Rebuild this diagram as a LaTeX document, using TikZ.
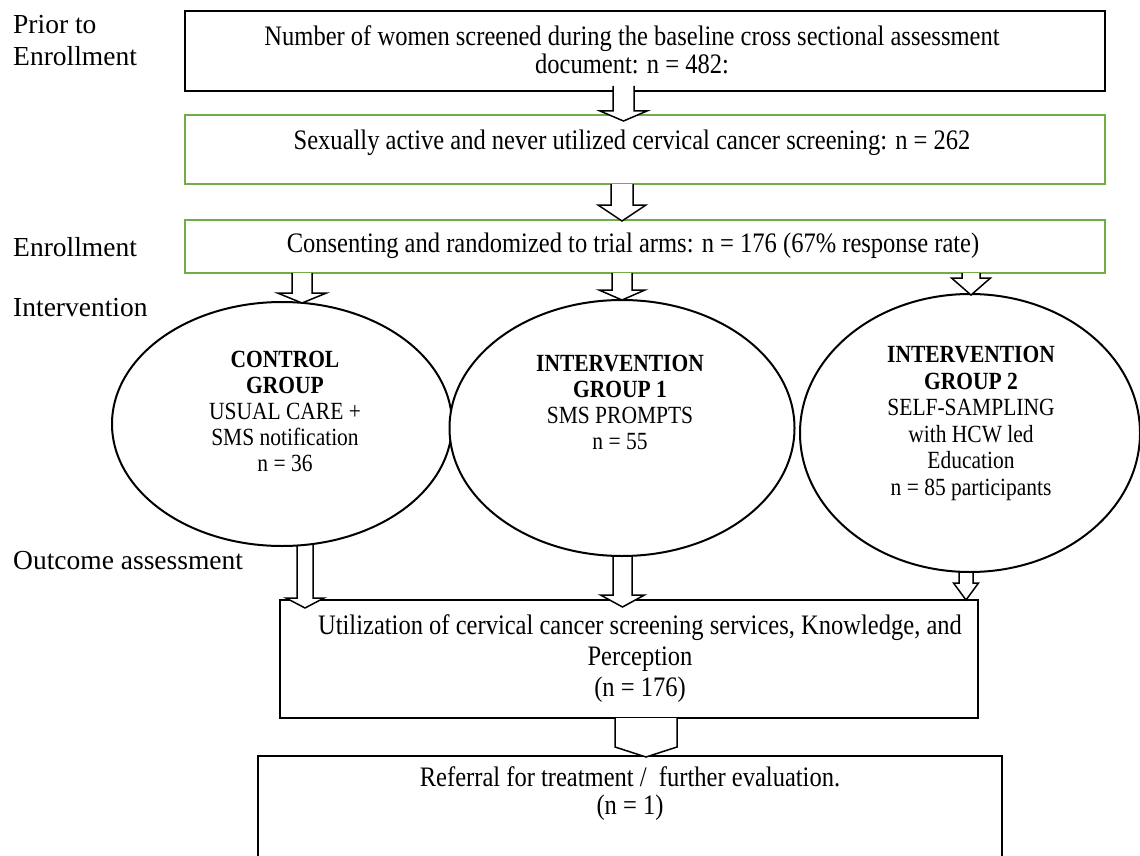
\documentclass[tikz,border=0pt]{standalone}
\usepackage{fontspec}
\setmainfont[FakeStretch=0.87]{Liberation Serif}
\newfontfamily\sidefont{Liberation Serif}
\usetikzlibrary{shapes.geometric}
\definecolor{boxgreen}{RGB}{112,173,71}
\tikzset{
  blackbox/.style={draw=black, line width=1.5pt, fill=white, inner sep=0pt},
  greenbox/.style={draw=boxgreen, line width=2.5pt, fill=white, inner sep=0pt},
  groupell/.style={ellipse, draw=black, line width=2pt, fill=white, inner sep=0pt},
  boxtext/.style={font=\fontsize{28.2}{28}\selectfont, align=center, inner sep=0pt},
  elltext/.style={font=\fontsize{24.7}{26}\selectfont, align=center, inner sep=0pt},
  sidelabel/.style={font=\sidefont\fontsize{27.5}{32}\selectfont, align=left, anchor=west, inner sep=0pt},
  arrowfill/.style={fill=white, draw=none},
  arrowline/.style={draw=black, line width=1.5pt, line join=miter},
}
% #1 centre x, #2 shaft half width, #3 head half width, #4 shaft top, #5 head start, #6 tip
\newcommand\mydownarrow[6]{%
  \fill[arrowfill] (#1-#2,#4) -- (#1-#2,#5) -- (#1-#3,#5) -- (#1,#6) -- (#1+#3,#5) -- (#1+#2,#5) -- (#1+#2,#4) -- cycle;
  \draw[arrowline] (#1-#2,#4) -- (#1-#2,#5) -- (#1-#3,#5) -- (#1,#6) -- (#1+#3,#5) -- (#1+#2,#5) -- (#1+#2,#4);
}
\begin{document}
\begin{tikzpicture}[x=1pt,y=-1pt]
\useasboundingbox (0,0) rectangle (1140,856);
\fill[white] (0,0) rectangle (1140,856);

% side labels
\node[sidelabel] (lprior) at (13,41) {Prior to\\Enrollment};
\node[sidelabel] (lenrol) at (13,247) {Enrollment};
\node[sidelabel] (linter) at (13,308) {Intervention};
\node[sidelabel] (loutc) at (13,561) {Outcome assessment};

% boxes
\node[blackbox, minimum width=920pt, minimum height=80pt] (b1) at (645,51) {};
\node[greenbox, minimum width=920pt, minimum height=69pt] (b2) at (645,149.5) {};
\node[greenbox, minimum width=920pt, minimum height=53pt] (b3) at (645,246.5) {};
\node[blackbox, minimum width=698pt, minimum height=118pt] (b4) at (629,659) {};
\node[blackbox, minimum width=744pt, minimum height=104pt] (b5) at (630,808) {};

\node[boxtext] (t1) at (632,50) {Number of women screened during the baseline cross sectional assessment\\document: n = 482:};
\node[boxtext] (t2) at (632,143) {Sexually active and never utilized cervical cancer screening: n = 262};
\node[boxtext] (t3) at (633,246) {Consenting and randomized to trial arms: n = 176 (67\% response rate)};

% arrows between top boxes
\mydownarrow{623.5}{10.5}{23.5}{86}{111}{121}
\mydownarrow{622}{11}{24}{184}{205}{221}

% arrows from ellipses to box 4 (drawn before ellipses)
\mydownarrow{305}{8}{19}{530}{598}{608}
\mydownarrow{622.5}{9.5}{22}{540}{595}{607}
\mydownarrow{966}{7}{12.5}{560}{583}{600}

% ellipses
\node[groupell, minimum width=340pt, minimum height=244pt] (e1) at (282,424) {};
\node[groupell, minimum width=345pt, minimum height=256pt] (e2) at (622,428) {};
\node[groupell, minimum width=340pt, minimum height=278pt] (e3) at (970,433) {};

\node[elltext] (et1) at (285,411.5) {\textbf{CONTROL}\\\textbf{GROUP}\\USUAL CARE +\\SMS notification\\n = 36};
\node[elltext] (et2) at (620,402.5) {\textbf{INTERVENTION}\\\textbf{GROUP 1}\\SMS PROMPTS\\n = 55};
\node[elltext, font=\fontsize{24.7}{26.6}\selectfont] (et3) at (971,423.5) {\textbf{INTERVENTION}\\\textbf{GROUP 2}\\SELF-SAMPLING\\with HCW led\\Education\\n = 85 participants};

% arrows from box 3 to ellipses
\mydownarrow{302}{10}{24.5}{273}{293}{303}
\mydownarrow{622}{10}{23}{273}{290}{300}
\mydownarrow{971}{9}{19.5}{273}{278}{295}

% box 4 / box 5 texts
\node[boxtext, font=\fontsize{28.2}{31}\selectfont] (t4) at (640,659) {Utilization of cervical cancer screening services, Knowledge, and\\Perception\\(n = 176)};
\node[boxtext] (t5) at (630,794) {Referral for treatment /\ \ further evaluation.\\(n = 1)\hspace{24pt}};

% pentagon arrow box4 -> box5
\fill[arrowfill] (615,718) -- (615,747) -- (646,757) -- (677,747) -- (677,718) -- cycle;
\draw[arrowline] (615,718) -- (615,747) -- (646,757) -- (677,747) -- (677,718);
\end{tikzpicture}
\end{document}
